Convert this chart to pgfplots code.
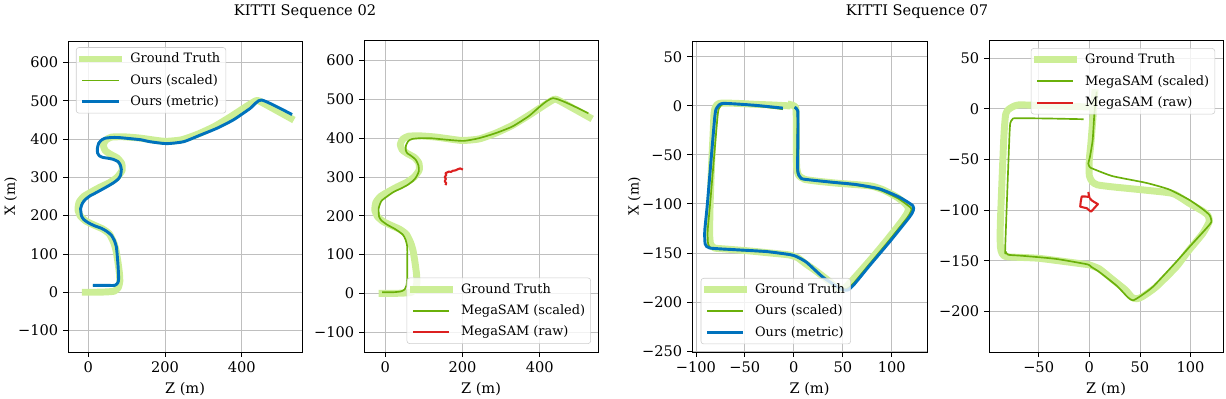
\documentclass[border=0pt]{standalone}
\usepackage{pgfplots}
\pgfplotsset{compat=1.18}
\usepackage{fontspec}
\setmainfont{DejaVu Serif}
\definecolor{gtc}{RGB}{204,238,150}
\definecolor{grc}{RGB}{106,176,10}
\definecolor{blc}{RGB}{0,114,189}
\definecolor{rdc}{RGB}{220,32,32}
\pgfplotsset{
  traj/.style={
    scale only axis,
    grid=major,
    major grid style={color=black!25, line width=0.6pt},
    axis line style={line width=0.6pt},
    major tick length=3.5pt,
    tick style={black, line width=0.6pt},
    tick align=outside, tick pos=left,
    xlabel={Z (m)},
    tick label style={font=\fontsize{10.5}{12}\selectfont},
    label style={font=\fontsize{10.5}{12}\selectfont},
    every axis y label/.style={at={(axis description cs:-0.245,0.5)}, rotate=90, anchor=center},
    legend cell align=left,
    legend style={font=\fontsize{9.3}{12.5}\selectfont, draw=black!20, fill=white, fill opacity=0.8, text opacity=1, draw opacity=1, rounded corners=2pt, inner sep=2pt, row sep=2.8pt, /tikz/every odd column/.append style={column sep=4pt}},
    legend image code/.code={\draw[##1] (0pt,0pt) -- (26pt,0pt);},
    clip mode=individual,
  },
  gt/.style={color=gtc, line width=5pt, line join=round, line cap=rect, smooth, tension=0.35},
  gr/.style={color=grc, line width=1.2pt, line join=round, smooth, tension=0.35},
  bl/.style={color=blc, line width=2.1pt, line join=round, smooth, tension=0.35},
  rd/.style={color=rdc, line width=1.5pt, line join=round},
}
\begin{document}
\begin{tikzpicture}
\useasboundingbox (0pt,0pt) rectangle (882.72pt,-286.56pt);
\node[font=\fontsize{10.5}{12}\selectfont] at (219.6pt,-8.64pt) {KITTI Sequence 02};
\node[font=\fontsize{10.5}{12}\selectfont] at (660.24pt,-8.64pt) {KITTI Sequence 07};
% Panel 1
\begin{axis}[traj, at={(48.96pt,-29.52pt)}, anchor=north west, width=168.48pt, height=223.92pt,
  xmin=-53, xmax=557, ymin=-156, ymax=656,
  xtick={0,200,400}, xticklabels={0,200,400},
  ytick={-100,0,100,200,300,400,500,600}, yticklabels={−100,0,100,200,300,400,500,600},
  ylabel={X (m)},
  legend style={at={(0.034,0.98)}, anchor=north west}]
\addplot[gt] coordinates {(-8,0) (20,0) (50,1) (68,3) (78,12) (82,28) (81,50) (77,80) (72,110) (66,130) (55,152) (38,165) (18,174) (-5,185) (-20,198) (-27,215) (-24,235) (-12,250) (8,262) (30,274) (55,286) (75,300) (88,318) (87,336) (76,350) (58,360) (44,370) (39,384) (45,397) (60,405) (90,406) (130,403) (160,399) (200,394) (243,398) (286,413) (329,433) (372,459) (415,487) (437,500) (450,497) (528,454)};
\addlegendentry{Ground Truth}
\addplot[gr] coordinates {(12,18) (40,18) (69,18) (77,25) (79,35) (78,60) (77,76) (75,100) (73,119) (68,135) (60,149) (48,159) (34,167) (15,174) (-1,182) (-12,190) (-18,200) (-20,219) (-15,233) (-8,242) (5,252) (16.5,258) (35,268) (51,277) (66,286) (77.5,295) (84,305) (86,321) (83,333) (77.5,341) (65,347) (51,350) (38,352) (29,356) (24,364) (23.5,375) (27,389) (35,398) (43,402) (60,404) (78,404) (110,401) (138,398) (161,393) (204,388) (248,393) (291,410) (335,428) (378,450) (422,480) (452,502) (531,464)};
\addlegendentry{Ours (scaled)}
\addplot[bl] coordinates {(12,18) (40,18) (69,18) (77,25) (79,35) (78,60) (77,76) (75,100) (73,119) (68,135) (60,149) (48,159) (34,167) (15,174) (-1,182) (-12,190) (-18,200) (-20,219) (-15,233) (-8,242) (5,252) (16.5,258) (35,268) (51,277) (66,286) (77.5,295) (84,305) (86,321) (83,333) (77.5,341) (65,347) (51,350) (38,352) (29,356) (24,364) (23.5,375) (27,389) (35,398) (43,402) (60,404) (78,404) (110,401) (138,398) (161,393) (204,388) (248,393) (291,410) (335,428) (378,450) (422,480) (452,502) (531,464)};
\addlegendentry{Ours (metric)}
\end{axis}
% Panel 2
\begin{axis}[traj, at={(262.08pt,-28.8pt)}, anchor=north west, width=168.48pt, height=224.64pt,
  xmin=-55, xmax=551, ymin=-151, ymax=653,
  xtick={0,200,400}, xticklabels={0,200,400},
  ytick={-100,0,100,200,300,400,500,600}, yticklabels={−100,0,100,200,300,400,500,600},
  legend style={at={(0.97,0.026)}, anchor=south east}]
\addplot[gt] coordinates {(-8,0) (20,0) (50,1) (68,3) (78,12) (82,28) (81,50) (77,80) (72,110) (66,130) (55,152) (38,165) (18,174) (-5,185) (-20,198) (-27,215) (-24,235) (-12,250) (8,262) (30,274) (55,286) (75,300) (88,318) (87,336) (76,350) (58,360) (44,370) (39,384) (45,397) (60,405) (90,406) (130,403) (160,399) (200,394) (243,398) (286,413) (329,433) (372,459) (415,487) (437,500) (450,497) (528,454)};
\addlegendentry{Ground Truth}
\addplot[gr] coordinates {(-8,3) (20,3) (40,5) (50,10) (55,21) (57,40) (57,77) (57,120) (52,140) (45,152) (27,165) (5,177) (-10,188) (-16,198) (-17,219) (-10,238) (5,250) (22.5,262) (40,270) (57,279) (72,290) (81,301) (87,315) (86,330) (78.5,345) (65,356) (57,361) (53,370) (54,382) (60,393) (70,398) (90,400) (117,400) (160,396) (203,393) (243,400) (286,413) (329,430) (372,457) (434.5,503) (526,464)};
\addlegendentry{MegaSAM (scaled)}
\addplot[rd] coordinates {(156,279) (158,284) (154,289) (157,295) (154,300) (158,305) (156,310) (161,312) (165,314) (170,313) (175,316) (182,317) (188,320) (194,322) (199,320) (201,319)};
\addlegendentry{MegaSAM (raw)}
\end{axis}
% Panel 3
\begin{axis}[traj, at={(498.24pt,-29.52pt)}, anchor=north west, width=169.2pt, height=223.92pt,
  xmin=-104, xmax=136, ymin=-251, ymax=66,
  xtick={-100,-50,0,50,100}, xticklabels={−100,−50,0,50,100},
  ytick={-250,-200,-150,-100,-50,0,50}, yticklabels={−250,−200,−150,−100,−50,0,50},
  ylabel={X (m)},
  legend style={at={(0.037,0.025)}, anchor=south west}]
\addplot[gt] coordinates {(-3,1) (2,-2) (2.5,-20) (2.5,-50) (3,-64) (5,-71) (11,-75) (25,-77) (45,-79) (65,-80.5) (80,-82) (92,-86) (105,-93) (113,-99) (117,-104) (116,-109) (110,-118) (95,-137) (80,-155) (65,-172) (55,-183) (50,-187) (44,-185) (35,-178) (22,-168) (12,-161) (4,-155) (-5,-152) (-25,-150) (-45,-148) (-70,-146) (-81,-145) (-85,-141) (-86,-130) (-85.5,-100) (-84,-60) (-82.5,-30) (-81.5,-8) (-80,-1) (-76,2.5) (-60,2.5) (-40,1.5) (-20,0.7) (-7,0)};
\addlegendentry{Ground Truth}
\addplot[gr] coordinates {(0.5,-2) (3.5,-5) (3.5,-30) (3.2,-66) (6.5,-73.5) (15,-75.5) (40,-78.5) (63.7,-81) (87,-85.5) (106.5,-94.5) (119.5,-104) (119.7,-107.5) (115.5,-114.5) (95.5,-139.5) (75.5,-163.5) (60.5,-181.5) (53.5,-187) (48,-186) (29.8,-174.5) (12.9,-159.8) (2.7,-154) (-4,-152) (-28,-149) (-62,-147) (-83.5,-145.5) (-87.5,-141) (-88,-127.6) (-85.5,-100) (-78,-12) (-76,-2) (-70.5,2) (-40,0) (-11.2,-3.5)};
\addlegendentry{Ours (scaled)}
\addplot[bl] coordinates {(0.7,-1.7) (4,-5) (4.2,-30) (4,-66) (7.5,-74) (16,-75.5) (40,-78) (63.7,-80.3) (87.5,-84.7) (107.8,-93.2) (121.4,-101.7) (122,-106.8) (118,-113.6) (97.6,-139) (77.3,-163) (62,-181.6) (55.3,-187.8) (48.5,-187) (29.8,-174.8) (12.9,-159.5) (2.7,-153.7) (-4,-151.7) (-28,-148.6) (-62,-146.6) (-86,-145) (-90.5,-141) (-91,-127.6) (-88.3,-100) (-80.8,-12) (-78.4,-1.7) (-72.3,2.4) (-40,0.5) (-11.2,-2.4)};
\addlegendentry{Ours (metric)}
\end{axis}
% Panel 4
\begin{axis}[traj, at={(712.08pt,-28.8pt)}, anchor=north west, width=168.48pt, height=224.64pt,
  xmin=-99, xmax=132, ymin=-240, ymax=68,
  xtick={-50,0,50,100}, xticklabels={−50,0,50,100},
  ytick={-200,-150,-100,-50,0,50}, yticklabels={−200,−150,−100,−50,0,50},
  legend style={at={(0.966,0.974)}, anchor=north east}]
\addplot[gt] coordinates {(5.5,16) (3.5,-10) (1.5,-35) (0,-50) (0,-66) (3,-72) (8,-75) (23,-77) (56,-80.3) (82.5,-83.6) (99,-93.4) (112,-101) (117,-105) (118.5,-111) (112,-123) (98,-140) (85.8,-156) (66,-175.7) (53,-185) (47,-187.5) (42,-186) (36,-179) (22.4,-168) (10,-158) (0,-154) (-4,-153.4) (-50,-147.5) (-81,-146) (-86,-143) (-87.8,-136) (-87.8,-112.5) (-84.5,-30.5) (-82.5,-5) (-79,0) (-70,3.9) (-40,3) (-3,2)};
\addlegendentry{Ground Truth}
\addplot[gr] coordinates {(7.3,17) (5,-5) (3.3,-31) (0.5,-48) (-1,-54) (0.5,-57.5) (3.3,-59) (23,-66.4) (56,-73) (79,-79.6) (99,-90) (112,-99) (118.8,-105) (120.5,-111.5) (115.5,-118) (100,-135) (85.8,-151) (62.7,-175.7) (49.5,-185.5) (43,-189) (38,-186) (27.3,-174.8) (9.9,-161) (2,-156) (-2.3,-153.4) (-33.6,-148) (-66.4,-145) (-80,-144) (-82.5,-141) (-83,-137) (-79,-30.5) (-78,-14) (-76,-10.5) (-73,-9.2) (-40,-9.5) (-5.6,-10.2)};
\addlegendentry{MegaSAM (scaled)}
\addplot[rd] coordinates {(-1,-82) (0,-87) (-4,-86.5) (-7.5,-86.5) (-8.5,-92) (-9,-96.5) (-5,-97.5) (-2.5,-98) (1.5,-101.5) (4,-99) (8.5,-94) (5,-92) (2,-90) (0.5,-88)};
\addlegendentry{MegaSAM (raw)}
\end{axis}
\end{tikzpicture}
\end{document}
